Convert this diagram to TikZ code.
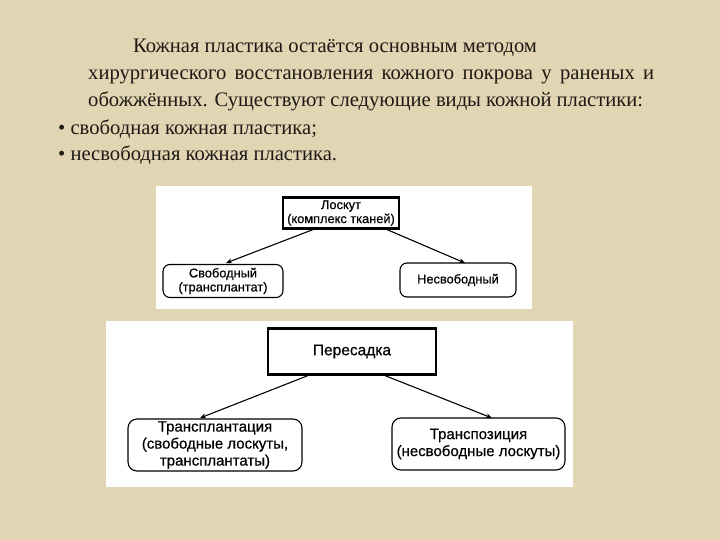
\documentclass[tikz,border=0pt]{standalone}
\usepackage{fontspec}
\setmainfont{Liberation Serif}
\newfontfamily\diagfont[FakeBold=0.6]{Liberation Sans}
\usetikzlibrary{arrows.meta}
\definecolor{parch}{RGB}{226,213,180}
\definecolor{ink}{RGB}{30,25,20}
\tikzset{
  bodytext/.style={anchor=base west,inner sep=0pt,font=\fontsize{20.6}{24}\selectfont,text=ink},
  panel/.style={fill=white,draw=none},
  headbox/.style={draw=black,line width=2.2pt,fill=white,align=center,font=\diagfont\fontsize{12.8}{14}\selectfont},
  leafbox/.style={draw=black,line width=1.1pt,rounded corners=7pt,fill=white,align=center,font=\diagfont\fontsize{12.8}{14}\selectfont},
  conn/.style={draw=black,line width=1.1pt,-{Stealth[length=6pt,width=5pt]}},
}
\begin{document}
\begin{tikzpicture}[x=1pt,y=-1pt]
\fill[parch] (0,0) rectangle (720,540);
\useasboundingbox (0,0) rectangle (720,540);
% text
\node[bodytext] (l1) at (133,53) {Кожная пластика остаётся основным методом};
\node[bodytext] (l2) at (88,80) {\makebox[566pt][s]{хирургического восстановления кожного покрова у раненых и}};
\node[bodytext] (l3) at (88,107) {обожжённых. Существуют следующие виды кожной пластики:};
\node[bodytext] (l4) at (58,135) {• свободная кожная пластика;};
\node[bodytext] (l5) at (58,161) {• несвободная кожная пластика.};
% panel 1
\fill[panel] (156,186) rectangle (532,309);
\node[headbox,minimum width=116pt,minimum height=31pt,inner sep=1pt] (lo) at (341,213) {Лоскут\\(комплекс тканей)};
\node[leafbox,minimum width=120pt,minimum height=33pt,inner sep=1pt] (sv) at (223,281) {Свободный\\(трансплантат)};
\node[leafbox,minimum width=116pt,minimum height=34pt,inner sep=1pt] (ns) at (458,280) {Несвободный};
\draw[conn] (lo.south -| 313,0) -- (226,263);
\draw[conn] (lo.south -| 387,0) -- (465,263);
% panel 2
\fill[panel] (106,321) rectangle (573,487);
\node[headbox,minimum width=168pt,minimum height=46pt,font=\diagfont\fontsize{15.5}{18}\selectfont] (pe) at (352,351.5) {Пересадка};
\node[leafbox,minimum width=174pt,minimum height=52pt,inner sep=1pt,rounded corners=9pt,font=\diagfont\fontsize{15}{17}\selectfont] (tp) at (215,445) {Трансплантация\\(свободные лоскуты,\\трансплантаты)};
\node[leafbox,minimum width=173pt,minimum height=52pt,inner sep=1pt,rounded corners=9pt,font=\diagfont\fontsize{15}{17}\selectfont] (ts) at (478.5,444) {Транспозиция\\(несвободные лоскуты)};
\draw[conn] (pe.south -| 308,0) -- (200,418);
\draw[conn] (pe.south -| 385,0) -- (492,418);
\end{tikzpicture}
\end{document}
